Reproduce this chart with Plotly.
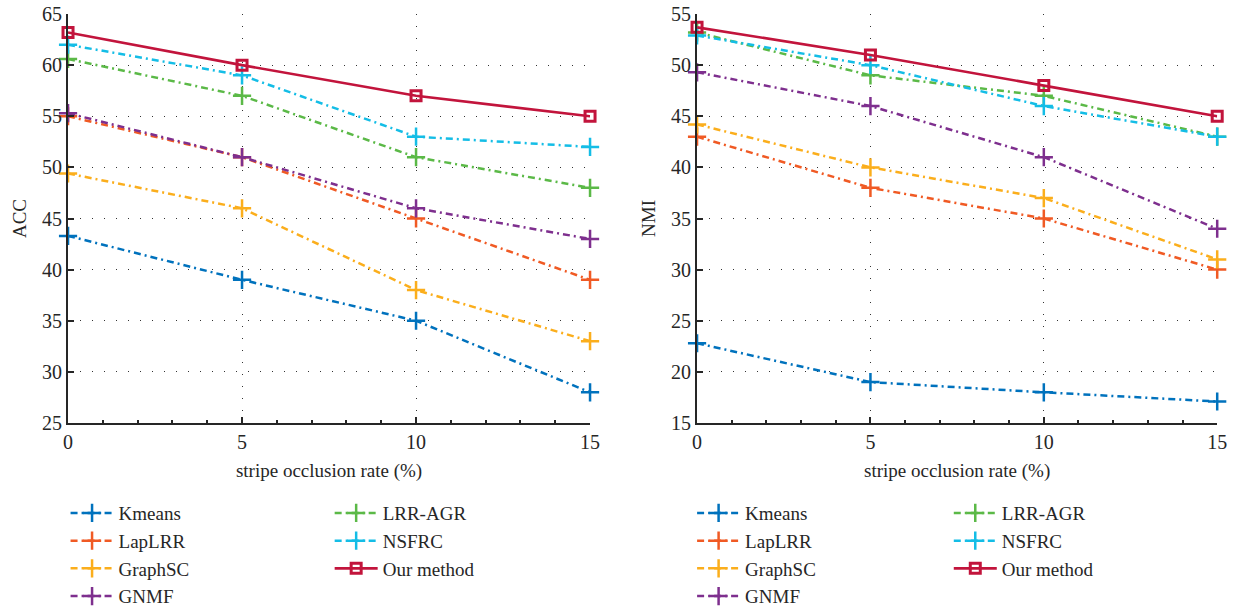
import plotly.graph_objects as go

x_vals = [0, 5, 10, 15]
methods = ["Kmeans", "LapLRR", "GraphSC", "GNMF", "LRR-AGR", "NSFRC", "Our method"]
colors = ["#0072BD", "#F05A24", "#FBAE1C", "#7E2F8E", "#5BB947", "#14BDE6", "#C2143C"]

acc = {
    "Kmeans": [43.3, 39, 35, 28],
    "LapLRR": [55, 51, 45, 39],
    "GraphSC": [49.4, 46, 38, 33],
    "GNMF": [55.3, 51, 46, 43],
    "LRR-AGR": [60.6, 57, 51, 48],
    "NSFRC": [62, 59, 53, 52],
    "Our method": [63.2, 60, 57, 55],
}
nmi = {
    "Kmeans": [22.8, 19, 18, 17.1],
    "LapLRR": [43, 38, 35, 30],
    "GraphSC": [44.2, 40, 37, 31],
    "GNMF": [49.3, 46, 41, 34],
    "LRR-AGR": [53.2, 49, 47, 43],
    "NSFRC": [52.9, 50, 46, 43],
    "Our method": [53.7, 51, 48, 45],
}

FONT = "Liberation Serif, DejaVu Serif, serif"
DASH = "7px,4px,2px,4px"

fig = go.Figure()
for panel, data in enumerate([acc, nmi]):
    xa = "x" if panel == 0 else "x2"
    ya = "y" if panel == 0 else "y2"
    for i, m in enumerate(methods):
        col_idx = 0 if i < 4 else 1
        leg = ["legend", "legend2", "legend3", "legend4"][panel * 2 + col_idx]
        is_ours = m == "Our method"
        fig.add_trace(go.Scatter(
            x=x_vals, y=data[m], name=m, mode="lines+markers",
            xaxis=xa, yaxis=ya, legend=leg, cliponaxis=False,
            line=dict(color=colors[i], width=2.6 if is_ours else 2.5,
                      dash="solid" if is_ours else DASH),
            marker=dict(symbol="square-open" if is_ours else "cross-thin",
                        size=10 if is_ours else 13,
                        color=colors[i],
                        line=dict(color=colors[i], width=3 if is_ours else 2.5)),
            legendrank=i,
        ))

axis_common = dict(
    showline=True, linecolor="#262626", linewidth=2,
    ticks="inside", ticklen=6, tickcolor="#262626", tickwidth=1.5,
    showgrid=True, gridcolor="#333333", gridwidth=1, griddash="1px,11px",
    zeroline=False, mirror=False, automargin=False,
    tickfont=dict(family=FONT, size=20, color="#262626"),
)
title_font = dict(family=FONT, size=19, color="#262626")

fig.update_layout(
    width=1237, height=610,
    margin=dict(l=0, r=0, t=0, b=0, autoexpand=False),
    paper_bgcolor="white", plot_bgcolor="white",
    showlegend=True,
    xaxis=dict(domain=[0.055, 0.477], range=[0, 15], tickvals=[0, 5, 10, 15],
               title=dict(text="stripe occlusion rate (%)", font=title_font, standoff=12),
               minor=dict(ticks="inside", ticklen=3, dtick=1, tickcolor="#262626", showgrid=False),
               anchor="y", **axis_common),
    yaxis=dict(domain=[0.3066, 0.977], range=[25, 65], tickvals=list(range(25, 70, 5)),
               title=dict(text="ACC", font=title_font, standoff=10),
               anchor="x", **axis_common),
    xaxis2=dict(domain=[0.5635, 0.984], range=[0, 15], tickvals=[0, 5, 10, 15],
                title=dict(text="stripe occlusion rate (%)", font=title_font, standoff=12),
                minor=dict(ticks="inside", ticklen=3, dtick=1, tickcolor="#262626", showgrid=False),
                anchor="y2", **axis_common),
    yaxis2=dict(domain=[0.3066, 0.977], range=[15, 55], tickvals=list(range(15, 60, 5)),
                title=dict(text="NMI", font=title_font, standoff=10),
                anchor="x2", **axis_common),
)

leg_common = dict(orientation="v", yanchor="top", y=0.19, xanchor="left",
                  font=dict(family=FONT, size=19, color="#262626"),
                  bgcolor="rgba(0,0,0,0)", tracegroupgap=0, itemwidth=43)
fig.update_layout(
    legend=dict(x=0.053, **leg_common),
    legend2=dict(x=0.2665, **leg_common),
    legend3=dict(x=0.5595, **leg_common),
    legend4=dict(x=0.767, **leg_common),
)

fig.write_html("out.html")
